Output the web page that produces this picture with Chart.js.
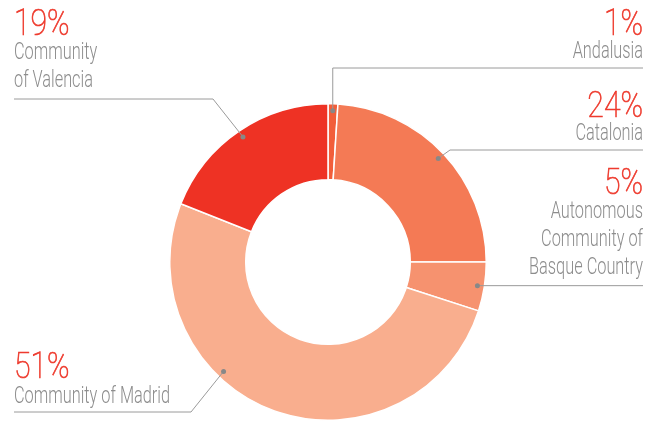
<!DOCTYPE html>
<html>
<head>
<meta charset="utf-8">
<script src="https://cdn.jsdelivr.net/npm/chart.js@4.4.1/dist/chart.umd.min.js"></script>
<style>
    html, body { margin: 0; padding: 0; background: #fff; }
    #wrap { width: 656px; height: 421px; position: relative; }
</style>
</head>
<body>
<div id="wrap"><canvas id="regionChart" width="656" height="421"></canvas></div>
<script>
const regions = ["Andalusia", "Catalonia", "Autonomous Community of Basque Country", "Community of Madrid", "Community of Valencia"];
const shares = [1, 24, 5, 51, 19];
const shareLabels = ["1%", "24%", "5%", "51%", "19%"];
const sliceColors = ["#F25E3A", "#F47A55", "#F6926F", "#F9AE8E", "#EE3224"];

// label text lines as printed next to each slice
const labelLines = [
    ["Andalusia"],
    ["Catalonia"],
    ["Autonomous", "Community of", "Basque Country"],
    ["Community of Madrid"],
    ["Community", "of Valencia"]
];

const RED = "#EE3B2E";
const GREY_TEXT = "#8d8d8d";
const GREY_LINE = "#9a9a9a";

// where each callout sits (page layout, not data)
const callouts = [
    { align: "right", x: 643, pctY: 35, firstLineY: 58, along: 0.5, lineY: 68, elbow: "vertical", endX: 643 },
    { align: "right", x: 643, pctY: 117, firstLineY: 140, along: 0.5, lineY: 150, elbow: { x: 450, y: 150 }, endX: 643 },
    { align: "right", x: 643, pctY: 194, firstLineY: 218, along: 0.5, lineY: null, elbow: "flat", endX: 643 },
    { align: "left", x: 14, pctY: 378, firstLineY: 403, along: 0.63, lineY: 412, elbow: { x: 191, y: 412 }, endX: 14 },
    { align: "left", x: 14, pctY: 35, firstLineY: 59, along: 0.5, lineY: 99, elbow: { x: 213, y: 99 }, endX: 14 }
];

function drawText(ctx, str, x, y, align, font, color, sx, stroke) {
    ctx.save();
    ctx.translate(x, y);
    ctx.scale(sx, 1);
    ctx.font = font;
    ctx.fillStyle = color;
    ctx.textAlign = align;
    ctx.textBaseline = "alphabetic";
    ctx.fillText(str, 0, 0);
    if (stroke) {
        ctx.strokeStyle = color;
        ctx.lineWidth = stroke;
        ctx.strokeText(str, 0, 0);
    }
    ctx.restore();
}

const calloutPlugin = {
    id: "callouts",
    afterDraw(chart) {
        const ctx = chart.ctx;
        const arcs = chart.getDatasetMeta(0).data;

        arcs.forEach((arc, i) => {
            const c = callouts[i];
            const a = arc.startAngle + (arc.endAngle - arc.startAngle) * c.along;
            const r = arc.outerRadius - 7;
            const px = arc.x + Math.cos(a) * r;
            const py = arc.y + Math.sin(a) * r;

            ctx.save();
            ctx.strokeStyle = GREY_LINE;
            ctx.lineWidth = 1;
            ctx.beginPath();
            ctx.moveTo(px, py);
            if (c.elbow === "vertical") {
                ctx.lineTo(px, c.lineY);
                ctx.lineTo(c.endX, c.lineY);
            } else if (c.elbow === "flat") {
                ctx.lineTo(c.endX, py);
            } else {
                ctx.lineTo(c.elbow.x, c.elbow.y);
                ctx.lineTo(c.endX, c.elbow.y);
            }
            ctx.stroke();

            ctx.fillStyle = "#888";
            ctx.beginPath();
            ctx.arc(px, py, 2.5, 0, Math.PI * 2);
            ctx.fill();
            ctx.restore();

            drawText(ctx, shareLabels[i], c.x, c.pctY, c.align, "100 36px Roboto", RED, 0.84, 0.7);
            labelLines[i].forEach((line, k) => {
                drawText(ctx, line, c.x, c.firstLineY + k * 28, c.align, "300 23px Roboto", GREY_TEXT, 0.71);
            });
        });
    }
};

new Chart(document.getElementById("regionChart"), {
    type: "doughnut",
    data: {
        labels: regions,
        datasets: [{
            data: shares,
            backgroundColor: sliceColors,
            borderColor: "#ffffff",
            borderWidth: 1.5
        }]
    },
    options: {
        responsive: false,
        devicePixelRatio: 1,
        animation: false,
        cutout: "52%",
        layout: { padding: { left: 169, right: 169, top: 103, bottom: 0 } },
        plugins: {
            legend: { display: false },
            tooltip: { enabled: false }
        }
    },
    plugins: [calloutPlugin]
});
</script>
</body>
</html>
